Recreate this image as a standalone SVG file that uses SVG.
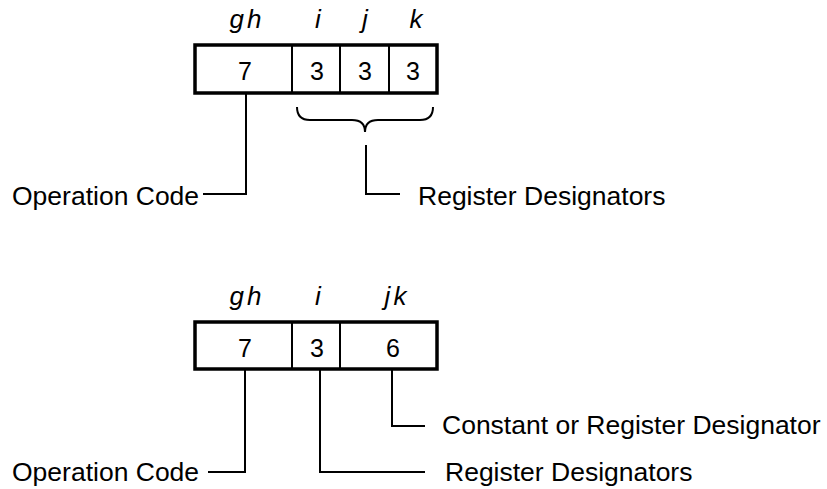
<svg xmlns="http://www.w3.org/2000/svg" width="827" height="489" viewBox="0 0 827 489">
<style>
.box{fill:#fff;stroke:#000;stroke-width:3.5}
.div{stroke:#000;stroke-width:2;fill:none}
.ln{stroke:#000;stroke-width:2;fill:none}
.num{font-family:"Liberation Sans",Arial,sans-serif;font-size:25px;text-anchor:middle;fill:#000}
.fld{font-family:"Liberation Sans",Arial,sans-serif;font-size:26px;font-style:italic;text-anchor:middle;fill:#000}
.lbl{font-family:"Liberation Sans",Arial,sans-serif;font-size:26.5px;fill:#000}
</style>
<rect width="827" height="489" fill="#fff"/>
<g id="format1">
  <rect class="box" x="195" y="45" width="242" height="48"/>
  <line class="div" x1="292" y1="45" x2="292" y2="93"/>
  <line class="div" x1="340" y1="45" x2="340" y2="93"/>
  <line class="div" x1="389" y1="45" x2="389" y2="93"/>
  <text class="fld" x="247" y="28" letter-spacing="3">gh</text>
  <text class="fld" x="318" y="28">i</text>
  <text class="fld" x="365" y="28">j</text>
  <text class="fld" x="416" y="28">k</text>
  <text class="num" x="245" y="80">7</text>
  <text class="num" x="317" y="80">3</text>
  <text class="num" x="365" y="80">3</text>
  <text class="num" x="413" y="80">3</text>
</g>
<g id="format2">
  <rect class="box" x="195" y="322" width="242" height="47"/>
  <line class="div" x1="292" y1="322" x2="292" y2="369"/>
  <line class="div" x1="340" y1="322" x2="340" y2="369"/>
  <text class="fld" x="247" y="305" letter-spacing="3">gh</text>
  <text class="fld" x="318" y="305">i</text>
  <text class="fld" x="397" y="305" letter-spacing="3">jk</text>
  <text class="num" x="245" y="357">7</text>
  <text class="num" x="317" y="357">3</text>
  <text class="num" x="393" y="357">6</text>
</g>
<g id="labels">
  <text class="lbl" x="12" y="205">Operation Code</text>
  <text class="lbl" x="418" y="205">Register Designators</text>
  <text class="lbl" x="442" y="434">Constant or Register Designator</text>
  <text class="lbl" x="12" y="481">Operation Code</text>
  <text class="lbl" x="445" y="481">Register Designators</text>
</g>
<g id="connectors">
  <path class="ln" d="M246,93 V194 H203"/>
  <path class="ln" d="M297,107 Q297,120 310,120 H352 Q365,120 365,132 Q365,120 378,120 H420 Q433,120 433,107"/>
  <path class="ln" d="M366,145 V194 H400"/>
  <path class="ln" d="M245,369 V472 H208"/>
  <path class="ln" d="M320,369 V472 H425"/>
  <path class="ln" d="M392,369 V426 H425"/>
</g>
</svg>
